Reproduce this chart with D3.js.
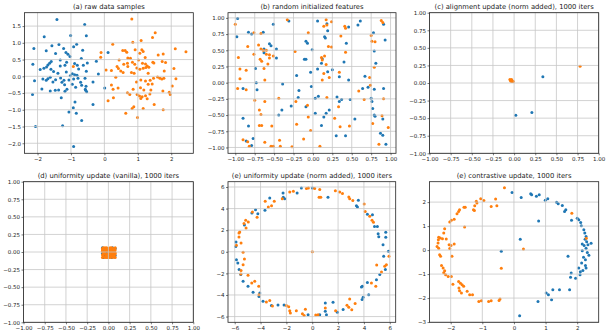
<!DOCTYPE html>
<html>
<head>
<meta charset="utf-8">
<script src="https://cdn.jsdelivr.net/npm/d3@7"></script>
<style>
  body { margin: 0; background: #fff; }
  svg text { font-family: "DejaVu Sans", sans-serif; }
</style>
</head>
<body>
<div class="viz"></div>
<script>
// ---- data ----
var titles = [
  "(a) raw data samples",
  "(b) random initialized features",
  "(c) alignment update (norm added), 1000 iters",
  "(d) uniformity update (vanilla), 1000 iters",
  "(e) uniformity update (norm added), 1000 iters",
  "(e) contrastive update, 1000 iters"
];

var ticksA_x = [-2, -1, 0, 1, 2];
var ticksA_y = [-2, -1.5, -1, -0.5, 0, 0.5, 1, 1.5];
var ticksUnit = [-1, -0.75, -0.5, -0.25, 0, 0.25, 0.5, 0.75, 1];
var ticksE = [-6, -4, -2, 0, 2, 4, 6];
var ticksF_x = [-2, -1, 0, 1, 2];
var ticksF_y = [-3, -2, -1, 0, 1, 2];

var aBlue = [[-1.42,1.70],[-0.59,1.55],[-1.01,1.22],[-0.54,1.21],[-1.80,1.18],[-2.11,0.83],[-1.57,0.91],[-1.36,0.95],
  [-0.83,0.96],[-0.92,0.88],[-1.22,0.83],[-0.65,0.78],[-1.74,0.76],[-1.46,0.68],[-1.15,0.71],[-1.09,0.66],[-1.03,0.59],
  [-1.32,0.49],[-0.69,0.53],[-1.59,0.44],[-1.64,0.39],[-0.24,0.45],[0.11,0.71],[-0.51,0.40],[-2.14,0.36],[-1.69,0.34],
  [-1.13,0.42],[-1.73,0.28],[-1.92,0.20],[-1.81,0.24],[-1.60,0.21],[-1.32,0.31],[-1.18,0.33],[-0.89,0.38],[-0.81,0.33],
  [-0.63,0.33],[-0.77,0.22],[-0.54,0.15],[-1.52,0.14],[-1.39,0.09],[-1.14,0.13],[-0.96,0.08],[-0.89,0.05],[-0.82,0.03],
  [-1.62,-0.03],[-1.69,-0.07],[-2.09,-0.13],[-1.84,-0.08],[-1.74,-0.12],[-1.46,-0.10],[-1.31,-0.05],[-1.21,-0.12],
  [-1.06,-0.11],[-0.92,-0.08],[-0.79,-0.06],[-0.58,-0.06],[-0.18,0.07],[-0.34,-0.17],[-1.54,-0.17],[-1.27,-0.18],
  [-1.19,-0.25],[-0.96,-0.24],[-0.71,-0.18],[-0.68,-0.27],[-0.57,-0.39],[-0.53,-0.46],[-0.86,-0.33],[-1.62,-0.44],
  [-1.47,-0.42],[-1.37,-0.41],[-1.12,-0.39],[-1.18,-0.45],[-1.87,-0.38],[-2.15,-0.54],[0.01,-0.35],[-1.29,-0.64],
  [-0.34,-0.84],[-0.88,-0.77],[-0.93,-0.94],[-1.06,-1.07],[-0.84,-1.10],[-0.68,-1.32],[-1.25,-1.48],[-2.06,-1.50],
  [-0.92,-2.10],[-0.56,-0.42],[-1.02,0.02],[-0.55,-0.30]];
var aOrange = [[0.82,1.71],[1.52,1.30],[1.44,1.16],[0.85,1.02],[1.10,1.07],[0.25,0.96],[2.12,0.82],[2.44,0.73],
  [0.55,0.77],[0.62,0.77],[0.67,0.72],[0.92,0.79],[1.12,0.79],[1.16,0.74],[1.06,0.69],[1.76,0.67],[1.61,0.64],
  [-0.10,0.71],[-0.11,0.57],[0.70,0.55],[0.78,0.54],[1.22,0.56],[0.44,0.49],[1.02,0.49],[0.69,0.39],[0.84,0.42],
  [0.91,0.36],[1.45,0.42],[1.48,0.40],[1.73,0.44],[1.83,0.41],[0.38,0.29],[0.58,0.36],[1.14,0.39],[1.23,0.37],
  [1.28,0.31],[0.97,0.25],[1.06,0.21],[1.16,0.24],[1.24,0.26],[1.33,0.27],[0.42,0.23],[0.70,0.29],[0.05,0.19],
  [0.21,0.17],[0.49,0.16],[0.56,0.11],[2.08,0.23],[1.79,0.16],[0.89,0.09],[0.81,0.11],[1.31,0.09],[-0.93,0.29],
  [1.47,-0.06],[1.59,-0.02],[1.66,-0.06],[1.72,-0.08],[1.78,-0.06],[2.14,-0.07],[0.34,-0.03],[1.09,-0.11],
  [1.23,-0.14],[1.37,-0.12],[0.96,-0.17],[1.31,-0.24],[1.43,-0.23],[2.03,-0.29],[0.21,-0.26],[0.41,-0.35],
  [0.26,-0.39],[0.86,-0.39],[1.08,-0.34],[1.18,-0.41],[1.75,-0.44],[1.94,-0.48],[1.97,-0.54],[1.39,-0.41],
  [0.69,-0.49],[0.76,-0.54],[0.98,-0.54],[1.05,-0.59],[1.13,-0.61],[1.23,-0.58],[1.28,-0.67],[0.27,-0.64],
  [1.09,-0.66],[1.36,-0.53],[0.11,-0.73],[1.49,-0.84],[0.88,-0.91],[0.83,-0.96],[1.16,-0.96],[1.76,-1.00],
  [0.64,-1.10],[0.99,-1.23]];

var bBlue = [[-0.97,0.99],[-0.98,0.71],[-0.83,0.78],[-0.79,0.75],[-0.64,0.78],[-0.51,0.90],[-0.31,0.95],[0.06,0.95],
  [0.18,0.91],[0.19,0.80],[0.46,0.86],[0.58,0.89],[0.61,0.95],[0.91,0.90],[0.78,0.77],[0.93,0.66],[0.79,0.49],
  [-0.09,0.64],[-0.07,0.61],[0.15,0.71],[0.16,0.69],[0.43,0.61],[-0.56,0.60],[-0.54,0.57],[-0.63,0.52],[-0.47,0.52],
  [-0.63,0.46],[-0.47,0.38],[-0.01,0.51],[-0.11,0.36],[-0.09,0.36],[0.11,0.30],[0.12,0.37],[0.40,0.32],[0.81,0.30],
  [-0.74,0.22],[0.06,0.21],[-0.03,0.16],[0.19,0.17],[0.25,0.20],[-0.21,0.11],[0.34,0.09],[0.67,0.10],[0.46,0.04],
  [-0.73,0.00],[-0.39,-0.02],[-0.02,-0.06],[-0.90,-0.09],[-0.72,-0.11],[-0.18,-0.12],[0.64,-0.09],[0.71,-0.07],
  [0.79,-0.10],[0.91,-0.09],[-0.19,-0.23],[0.03,-0.24],[0.07,-0.21],[0.31,-0.22],[0.34,-0.29],[0.37,-0.26],
  [0.48,-0.26],[0.75,-0.24],[0.76,-0.29],[-0.28,-0.36],[-0.09,-0.37],[-0.40,-0.42],[0.21,-0.42],[-0.44,-0.50],
  [0.03,-0.47],[0.17,-0.47],[0.14,-0.53],[0.79,-0.50],[0.80,-0.52],[-0.90,-0.55],[0.90,-0.56],[0.77,-0.40],
  [0.11,-0.66],[-0.83,-0.67],[0.54,-0.56],[-0.77,-0.86],[-0.86,-0.90],[-0.79,-0.97],[0.30,-0.82],[0.42,-0.82],
  [0.87,-0.78],[0.90,-0.81],[0.94,-0.95]];
var bOrange = [[-1.00,0.90],[-0.33,0.97],[0.17,0.97],[0.14,0.87],[0.18,0.89],[0.24,0.94],[0.41,0.87],[0.42,0.84],
  [0.88,0.96],[0.90,0.93],[-0.76,0.77],[-0.67,0.76],[-0.06,0.77],[0.36,0.72],[0.75,0.73],[0.76,0.64],[0.80,0.63],
  [-0.84,0.56],[-0.70,0.58],[-0.67,0.52],[-0.64,0.50],[-0.60,0.50],[0.20,0.56],[0.24,0.55],[-0.76,0.44],[-0.56,0.43],
  [-0.51,0.41],[-0.56,0.38],[-0.60,0.44],[-0.23,0.48],[0.42,0.47],[-0.96,0.39],[-0.68,0.36],[-0.66,0.33],[-0.58,0.29],
  [0.11,0.39],[0.15,0.41],[0.12,0.35],[0.17,0.28],[-0.94,0.21],[-0.86,0.19],[-0.63,0.22],[0.79,0.24],[0.14,0.14],
  [0.21,0.08],[0.34,0.16],[0.73,0.08],[-0.94,0.06],[-0.62,0.04],[0.12,0.04],[-0.97,-0.09],[-0.86,-0.11],[0.59,-0.13],
  [0.74,-0.04],[-0.75,-0.27],[-0.44,-0.24],[-0.62,-0.29],[-0.22,-0.29],[0.18,-0.23],[-0.07,-0.35],[0.33,-0.37],
  [0.66,-0.26],[0.91,-0.25],[-0.69,-0.42],[-0.67,-0.49],[-0.06,-0.53],[0.28,-0.55],[0.89,-0.51],[-0.21,-0.64],
  [-0.69,-0.66],[-0.66,-0.66],[-0.53,-0.67],[0.35,-0.68],[0.47,-0.67],[0.77,-0.63],[0.97,-0.69],[-0.03,-0.74],
  [-0.43,-0.89],[-0.12,-0.87],[-0.90,-0.88],[-0.84,-0.91],[-0.82,-0.98],[-0.62,-0.92],[-0.54,-0.98],[-0.51,-0.98],
  [-0.42,-0.98],[-0.27,-0.99],[0.09,-0.98],[0.85,-0.95]];

var cBlue = [[0.34,0.09],[0.02,-0.46],[0.21,-0.42],[-0.03,0.03]];
var cOrange = [[0.78,0.24],[-0.05,0.05],[-0.04,0.04],[-0.03,0.05],[-0.035,0.03],[-0.02,0.02],[-0.01,0.02],
  [-0.04,0.03],[-0.02,0.03],[-0.015,0.025]];

var dBlue = [[-0.07,0.06],[-0.05,0.02],[0.00,-0.01],[0.03,0.05],[0.07,-0.07],[-0.06,-0.08],[0.05,0.01],[-0.02,0.04],
  [0.08,0.05],[-0.04,-0.05],[0.02,-0.06],[0.06,-0.03],[-0.07,-0.02],[0.01,0.02],[-0.03,-0.02],[0.04,-0.08],
  [0.07,0.03],[-0.01,-0.07],[-0.06,0.04],[0.03,-0.03],[-0.02,0.00],[0.05,0.06],[0.08,-0.05],[-0.05,-0.06]];
var dOrange = [[-0.07,0.05],[-0.06,0.06],[-0.04,0.06],[-0.02,0.06],[0.00,0.05],[0.02,0.06],[0.04,0.06],[0.06,0.05],
  [0.08,0.06],[-0.07,0.03],[-0.05,0.04],[-0.03,0.03],[-0.01,0.04],[0.02,0.03],[0.04,0.04],[0.06,0.02],[0.08,0.03],
  [-0.07,0.01],[-0.04,0.01],[-0.02,0.02],[0.01,0.00],[0.03,0.01],[0.05,0.00],[0.07,0.01],[0.08,-0.01],[-0.06,-0.01],
  [-0.04,-0.02],[-0.01,-0.02],[0.02,-0.02],[0.04,-0.01],[0.06,-0.02],[-0.07,-0.04],[-0.05,-0.03],[-0.02,-0.04],
  [0.00,-0.04],[0.03,-0.05],[0.05,-0.04],[0.07,-0.04],[0.08,-0.03],[-0.06,-0.06],[-0.03,-0.06],[-0.01,-0.05],
  [0.01,-0.07],[0.04,-0.06],[0.06,-0.06],[0.08,-0.08],[-0.07,-0.08],[-0.04,-0.08],[-0.02,-0.08],[0.00,-0.08],
  [0.02,-0.08],[0.05,-0.08],[0.07,-0.06],[-0.05,0.00],[0.00,0.02],[0.06,0.04]];

var eBlue = [[-0.84,5.91],[0.01,5.91],[1.22,5.05],[-2.26,5.45],[-2.24,5.05],[-2.13,4.92],[-1.17,5.45],[-3.29,4.98],
  [-4.39,3.90],[-4.67,3.59],[-4.21,3.53],[-3.66,3.84],[3.57,4.77],[3.42,4.27],[3.50,4.15],[4.27,3.47],[4.66,3.44],
  [-5.25,2.48],[-5.90,0.91],[-5.92,0.48],[-5.87,-0.73],[-5.76,-1.03],[-5.66,-1.65],[-5.53,-2.11],[-5.35,-2.73],
  [-4.97,-3.19],[-4.58,-3.75],[-4.06,-3.81],[-4.12,-4.15],[-3.81,-4.58],[-3.16,-4.98],[-2.65,-4.92],[-2.18,-4.92],
  [-0.32,-5.82],[0.58,-5.82],[1.01,-5.51],[1.10,-5.82],[1.01,-4.74],[1.61,-4.68],[1.95,-5.60],[2.39,-5.35],
  [3.86,-4.43],[3.94,-4.21],[4.37,-3.97],[4.27,-2.85],[3.88,-3.19],[3.81,-3.26],[4.97,-2.58],[5.23,-2.11],
  [5.66,-1.65],[5.53,-0.42],[5.90,0.05],[5.48,0.66],[5.69,1.34],[5.69,1.80],[5.10,1.68],[5.15,1.40],[5.04,2.35],
  [4.82,2.35]];
var eOrange = [[-1.74,5.54],[-1.46,5.60],[-0.45,5.85],[-0.30,5.91],[0.19,5.85],[0.58,5.76],[0.53,5.05],[0.66,5.05],
  [1.79,5.66],[2.13,5.54],[2.34,5.39],[2.83,5.08],[2.90,4.92],[3.14,4.74],[4.02,4.43],[4.10,3.72],[4.45,3.28],
  [4.63,2.91],[4.74,2.73],[-2.32,4.92],[-2.94,4.68],[-3.64,4.68],[-3.15,4.27],[-3.40,4.15],[-4.63,3.69],[-4.27,3.19],
  [-4.95,2.76],[-5.15,2.91],[-5.28,2.61],[-5.12,2.21],[-5.61,1.84],[-5.67,1.74],[-5.67,1.37],[-5.51,0.82],
  [-5.87,0.60],[-5.35,-0.05],[-5.25,-0.66],[-5.35,-1.19],[-5.51,-1.74],[-5.53,-2.05],[-4.97,-2.18],[-4.45,-2.73],
  [-4.68,-2.89],[-4.14,-3.19],[-4.12,-3.97],[-3.55,-4.65],[-3.29,-4.52],[-3.08,-5.02],[-2.00,-4.98],[-1.82,-5.08],
  [-1.74,-5.45],[-1.69,-5.66],[-1.23,-5.45],[-0.76,-5.73],[-0.53,-5.33],[-0.63,-5.91],[0.27,-5.85],[0.45,-5.82],
  [1.01,-5.20],[1.81,-5.45],[2.69,-4.95],[2.90,-4.37],[2.83,-5.14],[3.06,-5.36],[3.32,-4.80],[4.92,-3.19],
  [4.58,-2.89],[5.36,-1.87],[5.61,-1.34],[5.74,-1.19],[4.99,-1.22],[5.94,-0.42],[0.01,0.00]];

var fBlue = [[-0.06,2.40],[0.23,2.19],[0.53,2.35],[0.56,2.31],[0.71,2.24],[0.80,2.31],[0.99,2.08],[1.07,2.14],
  [1.35,1.99],[1.40,1.93],[1.53,1.86],[1.64,1.68],[1.60,1.61],[1.82,1.24],[2.00,1.33],[2.05,1.26],[2.11,1.15],
  [2.13,1.01],[2.21,0.85],[2.24,0.71],[2.28,0.57],[2.16,0.25],[2.22,0.19],[2.34,0.22],[2.44,0.28],[2.28,0.08],
  [2.16,-0.03],[2.37,-0.22],[2.26,-0.40],[2.14,-0.54],[2.26,-0.64],[2.28,-0.75],[2.05,-0.75],[2.18,-0.85],
  [2.09,-1.03],[1.95,-1.17],[1.81,-0.96],[1.79,-1.13],[1.71,-0.26],[1.76,-1.65],[1.44,-1.65],[1.23,-1.65],
  [1.02,-1.79],[1.09,-1.86],[1.19,-2.07],[0.76,-2.14],[0.20,0.45],[-0.40,-0.05],[0.18,-2.74],[0.78,1.21],
  [2.30,0.35],[2.20,-0.30],[2.32,-0.10],[2.25,0.45],[2.10,-0.90]];
var fOrange = [[-0.30,2.60],[-1.05,2.14],[-0.95,2.07],[-1.19,2.03],[-1.17,1.96],[-0.58,2.13],[-0.54,1.85],[-0.72,1.82],
  [-1.24,1.85],[-1.28,1.68],[-1.25,1.65],[-1.58,1.79],[-1.54,1.78],[-1.72,1.68],[-1.75,1.61],[-1.80,1.51],[-1.89,1.29],
  [-1.98,1.24],[-2.03,1.17],[-2.19,0.89],[-2.22,0.71],[-2.38,0.53],[-2.33,0.50],[-2.26,0.47],[-2.39,0.43],[-2.14,0.46],
  [-2.40,0.29],[-2.43,0.15],[-2.38,0.08],[-2.05,0.22],[-1.99,0.19],[-1.89,0.25],[-2.03,0.07],[-1.56,0.96],
  [-2.35,-0.19],[-2.32,-0.26],[-1.96,-0.26],[-2.29,-0.64],[-2.24,-0.75],[-2.19,-0.86],[-2.22,-0.94],[-2.16,-1.03],
  [-2.08,-1.10],[-1.98,-1.10],[-1.93,-1.42],[-1.75,-1.31],[-1.69,-1.38],[-1.64,-1.44],[-1.59,-1.51],[-1.74,-1.58],
  [-1.72,-1.69],[-1.66,-1.79],[-1.48,-1.72],[-1.40,-1.86],[-1.31,-1.86],[-1.03,-2.11],[-1.11,-2.14],[-0.80,-2.14],
  [-0.72,-2.11],[-0.47,-2.10],[-0.44,-2.04],[-0.40,-0.76],[0.30,0.04],[2.29,0.49],[1.83,1.54]];

// ---- layout ----
var width = 609, height = 336;
var blue = "#1f77b4", orange = "#ff7f0e";

var panels = [
  {x0: 24.5, x1: 193.3, y0: 12.7, y1: 153.3, xd: [-2.39, 2.66], yd: [-2.30, 1.90],
    xt: ticksA_x, yt: ticksA_y, xf: d3.format("d"), yf: d3.format(".1f"), blue: aBlue, orange: aOrange},
  {x0: 228, x1: 396, y0: 12.7, y1: 153.3, xd: [-1.094, 1.07], yd: [-1.09, 1.08],
    xt: ticksUnit, yt: ticksUnit, xf: d3.format(".2f"), yf: d3.format(".2f"), blue: bBlue, orange: bOrange},
  {x0: 429.5, x1: 598.7, y0: 12.7, y1: 153.3, xd: [-1, 1], yd: [-1, 1],
    xt: ticksUnit, yt: ticksUnit, xf: d3.format(".2f"), yf: d3.format(".2f"), blue: cBlue, orange: cOrange},
  {x0: 23.5, x1: 193.3, y0: 181.7, y1: 322.3, xd: [-1, 1], yd: [-1, 1],
    xt: ticksUnit, yt: ticksUnit, xf: d3.format(".2f"), yf: d3.format(".2f"), blue: dBlue, orange: dOrange},
  {x0: 228, x1: 395.7, y0: 181.7, y1: 322.3, xd: [-6.52, 6.46], yd: [-6.53, 6.49],
    xt: ticksE, yt: ticksE, xf: d3.format("d"), yf: d3.format("d"), blue: eBlue, orange: eOrange},
  {x0: 429.5, x1: 598.7, y0: 181.7, y1: 322.3, xd: [-2.67, 2.68], yd: [-3.01, 2.85],
    xt: ticksF_x, yt: ticksF_y, xf: d3.format("d"), yf: d3.format("d"), blue: fBlue, orange: fOrange}
];

var svg = d3.select(".viz").append("svg")
    .attr("width", width)
    .attr("height", height)
    .style("display", "block");

svg.append("rect").attr("width", width).attr("height", height).attr("fill", "#fff");

panels.forEach(function(p, i) {
    var x = d3.scaleLinear().domain(p.xd).range([p.x0, p.x1]);
    var y = d3.scaleLinear().domain(p.yd).range([p.y1, p.y0]);
    var g = svg.append("g");

    // points first, grid goes over them like matplotlib's default
    [[p.blue, blue], [p.orange, orange]].forEach(function(s) {
        g.append("g").selectAll("circle")
            .data(s[0])
            .enter().append("circle")
            .attr("cx", function(d) { return x(d[0]); })
            .attr("cy", function(d) { return y(d[1]); })
            .attr("r", 1.5)
            .attr("fill", s[1]);
    });

    var grid = g.append("g").attr("stroke", "#c6c6c6").attr("stroke-width", 0.8);
    grid.selectAll("line.gx").data(p.xt).enter().append("line")
        .attr("x1", x).attr("x2", x).attr("y1", p.y0).attr("y2", p.y1);
    grid.selectAll("line.gy").data(p.yt).enter().append("line")
        .attr("y1", y).attr("y2", y).attr("x1", p.x0).attr("x2", p.x1);

    var xAxis = g.append("g")
        .attr("transform", "translate(0," + p.y1 + ")")
        .call(d3.axisBottom(x).tickValues(p.xt).tickFormat(p.xf).tickSize(2).tickSizeOuter(0).tickPadding(1.5));
    var yAxis = g.append("g")
        .attr("transform", "translate(" + p.x0 + ",0)")
        .call(d3.axisLeft(y).tickValues(p.yt).tickFormat(p.yf).tickSize(2).tickSizeOuter(0).tickPadding(1.5));
    [xAxis, yAxis].forEach(function(a) {
        a.select(".domain").remove();
        a.selectAll(".tick line").attr("stroke", "#222").attr("stroke-width", 0.6);
        a.selectAll("text").attr("fill", "#222").style("font-size", "5.5px")
            .style("font-family", "'DejaVu Sans', sans-serif");
    });

    g.append("rect")
        .attr("x", p.x0).attr("y", p.y0)
        .attr("width", p.x1 - p.x0).attr("height", p.y1 - p.y0)
        .attr("fill", "none").attr("stroke", "#222").attr("stroke-width", 0.8);

    g.append("text")
        .attr("x", (p.x0 + p.x1) / 2)
        .attr("y", p.y0 - 4)
        .attr("text-anchor", "middle")
        .attr("fill", "#222")
        .style("font-size", "6.8px")
        .text(titles[i]);
});
</script>
</body>
</html>
